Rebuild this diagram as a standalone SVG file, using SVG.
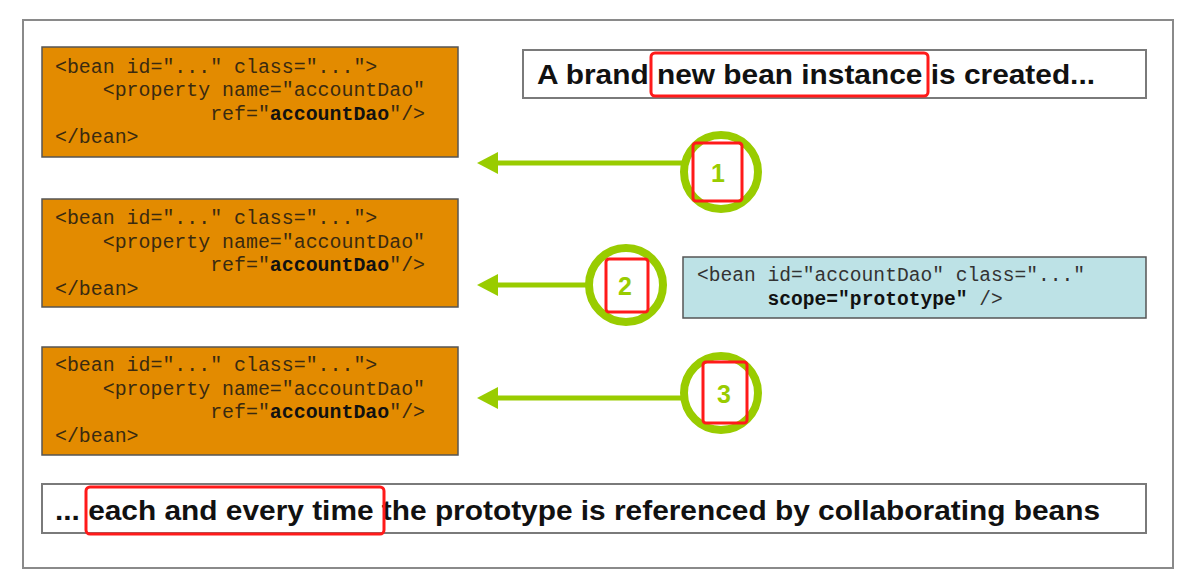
<svg xmlns="http://www.w3.org/2000/svg" width="1195" height="585" viewBox="0 0 1195 585">
<defs>
<style>
.frame{fill:#fff;stroke:#8a8a8a;stroke-width:2}
.xml{fill:#e38b00;stroke:#555;stroke-width:1.5}
.blue{fill:#bde2e6;stroke:#555;stroke-width:1.5}
.tbox{fill:#fff;stroke:#7a7a7a;stroke-width:2}
.code{font-family:"Liberation Mono","Courier New",monospace;font-size:19.9px;fill:#3a2a10;white-space:pre}
.bcode{font-family:"Liberation Mono","Courier New",monospace;font-size:19.6px;fill:#333;white-space:pre}
.b{font-weight:bold;fill:#111}
.big{font-family:"Liberation Sans",Arial,sans-serif;font-weight:bold;font-size:27px;fill:#111}
.hl{fill:none;stroke:#ff1a1a;stroke-width:3}
.ring{fill:#fff;stroke:#99cc00;stroke-width:8}
.num{font-family:"Liberation Sans",Arial,sans-serif;font-weight:bold;font-size:25px;fill:#99cc00;text-anchor:middle}
.arr{stroke:#99cc00;stroke-width:5;fill:none}
.head{fill:#99cc00}
</style>
</defs>
<rect class="frame" x="23" y="20" width="1150" height="548"/>

<g id="bean1">
<rect class="xml" x="42" y="47" width="416" height="110"/>
<text class="code" x="55" y="73">&lt;bean id="..." class="..."&gt;</text>
<text class="code" x="55" y="96">    &lt;property name="accountDao"</text>
<text class="code" x="55" y="120">             ref="<tspan class="b">accountDao</tspan>"/&gt;</text>
<text class="code" x="55" y="143">&lt;/bean&gt;</text>
</g>
<g id="bean2">
<rect class="xml" x="42" y="199" width="416" height="108"/>
<text class="code" x="55" y="224">&lt;bean id="..." class="..."&gt;</text>
<text class="code" x="55" y="248">    &lt;property name="accountDao"</text>
<text class="code" x="55" y="271">             ref="<tspan class="b">accountDao</tspan>"/&gt;</text>
<text class="code" x="55" y="295">&lt;/bean&gt;</text>
</g>
<g id="bean3">
<rect class="xml" x="42" y="347" width="416" height="108"/>
<text class="code" x="55" y="371">&lt;bean id="..." class="..."&gt;</text>
<text class="code" x="55" y="395">    &lt;property name="accountDao"</text>
<text class="code" x="55" y="418">             ref="<tspan class="b">accountDao</tspan>"/&gt;</text>
<text class="code" x="55" y="442">&lt;/bean&gt;</text>
</g>

<g id="title">
<rect class="tbox" x="523" y="50" width="623" height="48"/>
<text class="big" x="537" y="84" textLength="558" lengthAdjust="spacingAndGlyphs">A brand new bean instance is created...</text>
<rect class="hl" x="651" y="53" width="277" height="43" rx="4"/>
</g>

<g id="prototype">
<rect class="blue" x="683" y="257" width="463" height="61"/>
<text class="bcode" x="697" y="281">&lt;bean id="accountDao" class="..."</text>
<text class="bcode" x="697" y="305">      <tspan class="b">scope="prototype"</tspan> /&gt;</text>
</g>

<g id="footer">
<rect class="tbox" x="42" y="484" width="1104" height="49"/>
<text class="big" x="55" y="520" textLength="1045" lengthAdjust="spacingAndGlyphs">... each and every time the prototype is referenced by collaborating beans</text>
<rect class="hl" x="86" y="487" width="298" height="47" rx="4"/>
</g>

<g id="connectors">
<line class="arr" x1="495" y1="163" x2="684" y2="163"/>
<polygon class="head" points="477,163 498,152 498,174"/>
<line class="arr" x1="495" y1="285" x2="590" y2="285"/>
<polygon class="head" points="477,285 498,274 498,296"/>
<line class="arr" x1="495" y1="398" x2="684" y2="398"/>
<polygon class="head" points="477,398 498,387 498,409"/>
</g>

<g id="step1">
<circle class="ring" cx="721" cy="172" r="37"/>
<text class="num" x="718" y="182">1</text>
<rect class="hl" x="693" y="143" width="49" height="58" rx="3"/>
</g>
<g id="step2">
<circle class="ring" cx="626" cy="285" r="37"/>
<text class="num" x="625" y="295">2</text>
<rect class="hl" x="606" y="259" width="42" height="53" rx="3"/>
</g>
<g id="step3">
<circle class="ring" cx="721" cy="393" r="37"/>
<text class="num" x="724" y="403">3</text>
<rect class="hl" x="703" y="362" width="44" height="61" rx="3"/>
</g>
</svg>
